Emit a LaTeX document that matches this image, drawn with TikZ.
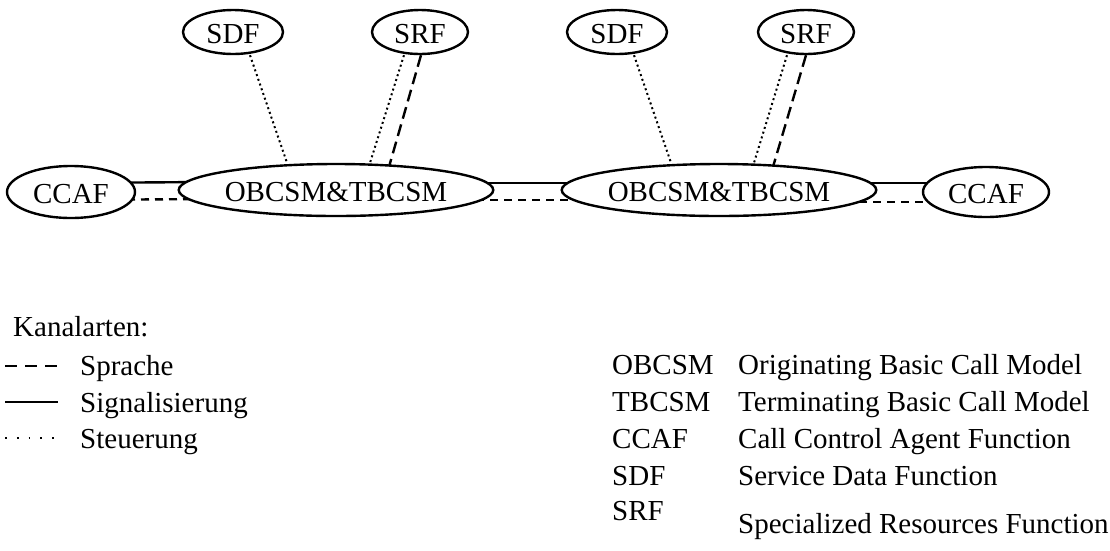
\documentclass[tikz,border=0pt]{standalone}
\usepackage{fontspec}
\setmainfont{Liberation Serif}
\usetikzlibrary{shapes.geometric,backgrounds}

\tikzset{
  unit/.style={ellipse, draw, line width=2.4pt, fill=white, inner sep=0pt,
    text height=23pt, text depth=0.5pt},
  sig/.style={line width=2.4pt},
  voice/.style={line width=2.4pt, dash pattern=on 8pt off 6pt},
  voicelong/.style={line width=2.4pt, dash pattern=on 12pt off 6pt},
  ctrl/.style={line width=2pt, dash pattern=on 2pt off 3pt},
  legtext/.style={anchor=west, inner sep=0pt, text height=19.5pt, text depth=6.5pt},
}

\begin{document}
\begin{tikzpicture}[x=1pt, y=-1pt, font=\fontsize{29}{33}\selectfont]
\useasboundingbox (0,0) rectangle (1110,550);

% functional entities
\node[unit, minimum width=128pt, minimum height=52pt] (ccafL) at (71,192) {CCAF};
\node[unit, minimum width=288pt, minimum height=52pt] (ob1) at (336,190) {OBCSM\&TBCSM};
\node[unit, minimum width=312pt, minimum height=52pt] (ob2) at (719,190) {OBCSM\&TBCSM};
\node[unit, minimum width=126pt, minimum height=50pt] (ccafR) at (986,192) {CCAF};
\node[unit, minimum width=100pt, minimum height=44pt] (sdf1) at (233,32) {SDF};
\node[unit, minimum width=96pt,  minimum height=44pt] (srf1) at (420,32) {SRF};
\node[unit, minimum width=100pt, minimum height=44pt] (sdf2) at (617,32) {SDF};
\node[unit, minimum width=96pt,  minimum height=44pt] (srf2) at (806,32) {SRF};

% channels, drawn behind the entities
\begin{pgfonlayer}{background}
  \draw[sig]   ([yshift=9pt]ccafL.center)  -- ([yshift=9pt]ob1.center);
  \draw[voice] ([yshift=-8pt]ccafL.center) -- ([yshift=-8pt]ob1.center);
  \draw[sig]   ([yshift=7pt]ob1.center)    -- ([yshift=7pt]ob2.center);
  \draw[voice] ([yshift=-10pt]ob1.center)  -- ([yshift=-10pt]ob2.center);
  \draw[sig]   ([yshift=7pt]ob2.center)    -- ([yshift=9pt]ccafR.center);
  \draw[voice] ([yshift=-12pt]ob2.center)  -- ([yshift=-10pt]ccafR.center);

  \draw[ctrl] ([xshift=17pt]sdf1.south) -- ([xshift=-49pt]ob1.north);
  \draw[ctrl] ([xshift=-16pt]srf1.south) -- ([xshift=34pt]ob1.north);
  \draw[voicelong] ([xshift=1pt]srf1.south) -- ([xshift=53pt,yshift=-4pt]ob1.north);
  \draw[ctrl] ([xshift=17pt]sdf2.south) -- ([xshift=-48pt]ob2.north);
  \draw[ctrl] ([xshift=-19pt]srf2.south) -- ([xshift=35pt]ob2.north);
  \draw[voicelong] ([xshift=0pt]srf2.south) -- ([xshift=54pt,yshift=-4pt]ob2.north);
\end{pgfonlayer}

% legend: channel types
\node[legtext] (kanal) at (13,330) {Kanalarten:};
\coordinate (sprA) at (5,366);  \coordinate (sprB) at (58,366);
\coordinate (sigA) at (5,402);  \coordinate (sigB) at (58,402);
\coordinate (steA) at (5,438);  \coordinate (steB) at (58,438);
\draw[line width=1.8pt, dash pattern=on 12pt off 8pt] (sprA) -- (sprB);
\draw[line width=2pt] (sigA) -- (sigB);
\draw[line width=1.6pt, dash pattern=on 1.8pt off 10pt] (steA) -- (steB);
\node[legtext] (spr) at (80,369) {Sprache};
\node[legtext] (sig) at (80,406) {Signalisierung};
\node[legtext] (ste) at (80,442) {Steuerung};

% legend: abbreviations
\node[legtext] (a1) at (612,368) {OBCSM};
\node[legtext] (a2) at (612,405) {TBCSM};
\node[legtext] (a3) at (612,442) {CCAF};
\node[legtext] (a4) at (612,479) {SDF};
\node[legtext] (a5) at (612,514) {SRF};
\node[legtext] (d1) at (738,368) {Originating Basic Call Model};
\node[legtext] (d2) at (738,405) {Terminating Basic Call Model};
\node[legtext] (d3) at (738,442) {Call Control Agent Function};
\node[legtext] (d4) at (738,479) {Service Data Function};
\node[legtext] (d5) at (738,527) {Specialized Resources Function};
\end{tikzpicture}
\end{document}
